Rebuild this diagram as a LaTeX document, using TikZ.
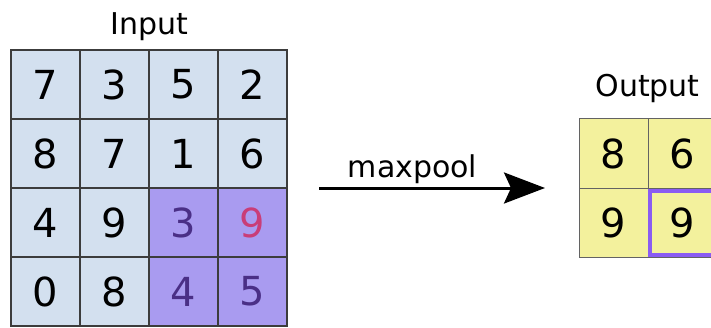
\documentclass[tikz,border=0pt]{standalone}
\usepackage{fontspec}
\setmainfont{DejaVu Sans}
\usetikzlibrary{arrows.meta}
\definecolor{inblue}{HTML}{D3E0EF}
\definecolor{inpurple}{HTML}{A99BF0}
\definecolor{digpurple}{HTML}{4A2F86}
\definecolor{digred}{HTML}{C93D78}
\definecolor{outyellow}{HTML}{F3F19D}
\definecolor{hilite}{HTML}{8A5CF2}
\definecolor{gridline}{HTML}{3C3C3C}
\tikzset{
  incell/.style={draw=gridline, line width=1.6pt, fill=inblue, minimum size=69pt, inner sep=0pt, font=\fontsize{40}{40}\selectfont, text=black},
  poolcell/.style={incell, fill=inpurple, text=digpurple},
  outcell/.style={draw=gridline!80, line width=1pt, fill=outyellow, minimum size=69pt, inner sep=0pt, font=\fontsize{40}{40}\selectfont},
  title/.style={font=\fontsize{30}{30}\selectfont, anchor=base, inner sep=0pt},
}
\begin{document}
\begin{tikzpicture}[x=1pt,y=1pt]
\useasboundingbox (0,0) rectangle (711,327);
\begin{scope}
\clip (0,0) rectangle (711,327);
% Input grid
\foreach \c/\v in {0/7,1/3,2/5,3/2}
  \node[incell] (in-0-\c) at (45.5+69*\c, 242.5) {\v};
\foreach \c/\v in {0/8,1/7,2/1,3/6}
  \node[incell] (in-1-\c) at (45.5+69*\c, 173.5) {\v};
\foreach \c/\v in {0/4,1/9}
  \node[incell] (in-2-\c) at (45.5+69*\c, 104.5) {\v};
\foreach \c/\v in {0/0,1/8}
  \node[incell] (in-3-\c) at (45.5+69*\c, 35.5) {\v};
\node[poolcell] (in-2-2) at (183.5, 104.5) {3};
\node[poolcell, text=digred] (in-2-3) at (252.5, 104.5) {9};
\node[poolcell] (in-3-2) at (183.5, 35.5) {4};
\node[poolcell] (in-3-3) at (252.5, 35.5) {5};
\node[title] (intitle) at (149, 292) {Input};
% Output grid
\node[outcell] (out-0-0) at (613.5, 173.5) {8};
\node[outcell] (out-0-1) at (682.5, 173.5) {6};
\node[outcell] (out-1-0) at (613.5, 104.5) {9};
\node[outcell] (out-1-1) at (682.5, 104.5) {9};
\draw[hilite, line width=4pt] (649.5,136.5) rectangle (716,72);
\node[title] (outtitle) at (647.5, 230) {Output};
% Arrow
\coordinate (astart) at (319, 139);
\coordinate (aend) at (545, 139);
\draw[line width=3pt, -{Stealth[length=41pt, width=31pt, inset=7pt]}] (astart) -- (aend);
\node[title] (arrowlabel) at (412.5, 150) {maxpool};
\end{scope}
\end{tikzpicture}
\end{document}
